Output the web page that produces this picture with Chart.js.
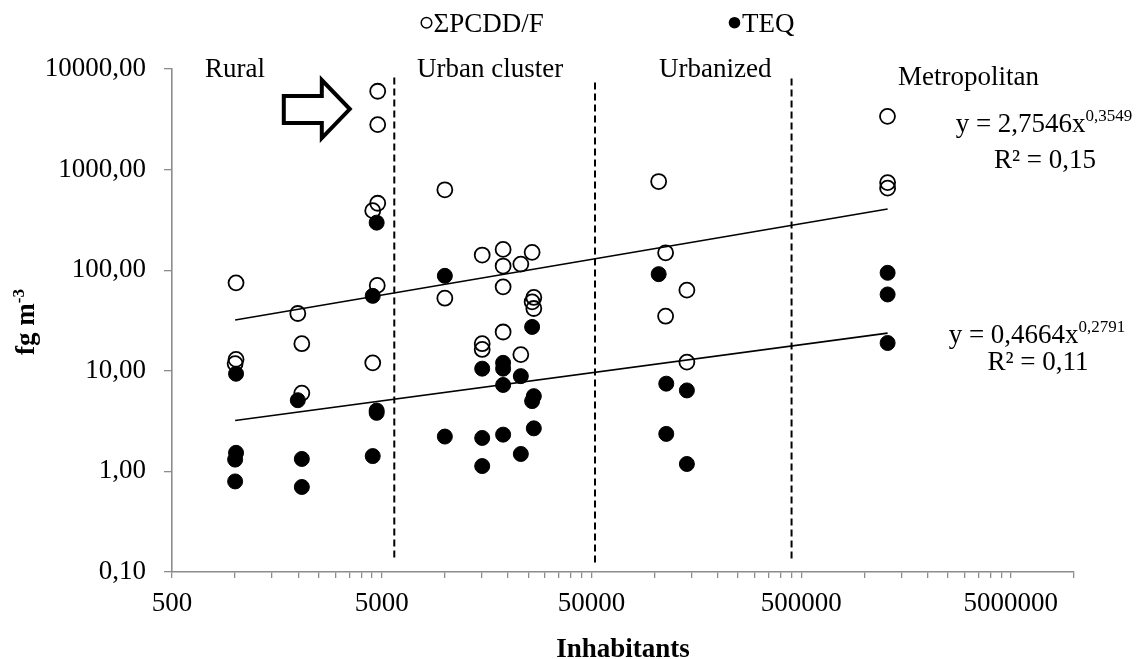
<!DOCTYPE html>
<html>
<head>
<meta charset="utf-8">
<script src="https://cdn.jsdelivr.net/npm/chart.js@4.4.1/dist/chart.umd.min.js"></script>
<style>
  html, body { margin: 0; padding: 0; background: #fff; }
  #wrap { width: 1140px; height: 659px; position: relative; }
</style>
</head>
<body>
<div id="wrap"><canvas id="chart"></canvas></div>
<script>
// ΣPCDD/F (open circles)
const pcddX = [1010, 1010, 1000, 1990, 2080, 2080, 4785, 4785, 4785, 4530, 4760, 4530,
  10000, 10000, 15070, 15070, 15070, 18960, 18960, 18960, 18960, 23030, 23030, 26070, 26560, 26070, 26560,
  104600, 112900, 142600, 112900, 142600,
  1290000, 1292000, 1292000];
const pcddY = [74.9, 13.0, 11.8, 37.1, 18.6, 6.0, 6010, 2800, 463, 391, 70.6, 12.0,
  630, 52.7, 141.5, 18.6, 16.3, 161, 110, 68.3, 24.3, 115, 14.5, 150.4, 53.6, 48.4, 41.6,
  761, 149, 63.3, 34.9, 12.2,
  3383, 743, 654];

// TEQ (filled circles)
const teqX = [4730, 4530, 1010, 1010, 1000, 1000, 1990, 2080, 2080, 4730, 4730, 4530,
  10000, 10000, 15070, 15070, 15070, 18960, 18960, 18960, 18960, 23030, 23030, 26070, 26560, 26070, 26560,
  104600, 113700, 142600, 113700, 142600,
  1292000, 1292000, 1292000];
const teqY = [297, 55.6, 9.35, 1.53, 1.31, 0.795, 5.1, 1.33, 0.70, 4.03, 3.82, 1.42,
  87.9, 2.22, 10.5, 2.15, 1.13, 12.0, 10.5, 7.23, 2.32, 8.85, 1.49, 27.3, 5.6, 5.0, 2.68,
  91.4, 7.45, 6.38, 2.36, 1.185,
  94.2, 57.4, 18.9];

// power trend lines (straight on log-log), end points
const trendX = [1000, 1292000];
const pcddTrendY = [32.0, 406];
const teqTrendY = [3.21, 23.7];

// dashed class boundaries
const boundX = [5740, 52000, 450000];
const boundTop = [8230, 7330, 8040];
const boundBottom = [0.129, 0.115, 0.126];

const areaNames = ['Rural', 'Urban cluster', 'Urbanized', 'Metropolitan'];
const xTickLabels = [500, 5000, 50000, 500000, 5000000];
const yTickValues = [0.1, 1, 10, 100, 1000, 10000];

// Excel style minor ticks: 500, 1000, 1500 ... 4500, 5000, 10000 ...
const xTicks = [];
xTickLabels.forEach(d => {
  for (let k = 1; k <= 9; k++) {
    if (d * k <= 1e7) xTicks.push(d * k);
  }
});

const FONT = '"Liberation Serif", "Times New Roman", serif';
Chart.defaults.font.family = FONT;
Chart.defaults.color = '#000';

const toPts = (xs, ys) => xs.map((x, i) => ({ x: x, y: ys[i] }));

const datasets = [
  {
    label: 'PCDD trend',
    data: toPts(trendX, pcddTrendY),
    showLine: true, pointRadius: 0, borderColor: '#000', borderWidth: 1.6, order: 0
  },
  {
    label: 'TEQ trend',
    data: toPts(trendX, teqTrendY),
    showLine: true, pointRadius: 0, borderColor: '#000', borderWidth: 1.6, order: 0
  },
  {
    label: 'TEQ',
    data: toPts(teqX, teqY),
    pointStyle: 'circle', pointRadius: 7.5, backgroundColor: '#000', borderColor: '#000', borderWidth: 1,
    order: 1
  },
  {
    label: 'ΣPCDD/F',
    data: toPts(pcddX, pcddY),
    pointStyle: 'circle', pointRadius: 7.5, backgroundColor: 'rgba(0,0,0,0)', borderColor: '#000', borderWidth: 1.8,
    order: 2
  }
];
boundX.forEach((bx, i) => {
  datasets.push({
    label: 'bound' + i,
    data: [{ x: bx, y: boundTop[i] }, { x: bx, y: boundBottom[i] }],
    showLine: true, pointRadius: 0, borderColor: '#000', borderWidth: 2, borderDash: [7, 4], order: 3
  });
});

function drawSup(ctx, main, sup, cx, base, size) {
  ctx.font = size + 'px ' + FONT;
  const w1 = ctx.measureText(main).width;
  ctx.font = Math.round(size * 0.63) + 'px ' + FONT;
  const w2 = ctx.measureText(sup).width;
  const x0 = cx - (w1 + w2) / 2;
  ctx.textAlign = 'left';
  ctx.textBaseline = 'alphabetic';
  ctx.font = size + 'px ' + FONT;
  ctx.fillText(main, x0, base);
  ctx.font = Math.round(size * 0.63) + 'px ' + FONT;
  ctx.fillText(sup, x0 + w1, base - 11);
}

const extras = {
  id: 'extras',
  afterDraw(chart) {
    const ctx = chart.ctx;
    const xs = chart.scales.x, ys = chart.scales.y;
    ctx.save();
    ctx.fillStyle = '#000';
    ctx.strokeStyle = '#000';

    // legend
    ctx.lineWidth = 1.5;
    ctx.beginPath();
    ctx.arc(426.5, 22.7, 5.3, 0, Math.PI * 2);
    ctx.stroke();
    ctx.beginPath();
    ctx.arc(734.5, 22.7, 5.8, 0, Math.PI * 2);
    ctx.fill();
    ctx.font = '27px ' + FONT;
    ctx.textAlign = 'left';
    ctx.textBaseline = 'alphabetic';
    ctx.fillText('ΣPCDD/F', 433.5, 32);
    ctx.fillText('TEQ', 742, 32);

    // area names
    ctx.fillText(areaNames[0], 205, 77);
    ctx.fillText(areaNames[1], 417, 77);
    ctx.fillText(areaNames[2], 659, 77);
    ctx.fillText(areaNames[3], 898, 85);

    // equations
    drawSup(ctx, 'y = 2,7546x', '0,3549', 1044, 132, 27);
    drawSup(ctx, 'y = 0,4664x', '0,2791', 1037, 343, 27);
    ctx.font = '27px ' + FONT;
    ctx.textAlign = 'center';
    ctx.fillText('R² = 0,15', 1045, 168);
    ctx.fillText('R² = 0,11', 1038, 370);

    // arrow pointing at the highest rural values
    const tx = xs.getPixelForValue(3600), ty = ys.getPixelForValue(4000);
    ctx.lineWidth = 4;
    ctx.lineJoin = 'miter';
    ctx.fillStyle = '#fff';
    ctx.beginPath();
    ctx.moveTo(tx - 68, ty - 13);
    ctx.lineTo(tx - 30, ty - 13);
    ctx.lineTo(tx - 30, ty - 29);
    ctx.lineTo(tx - 2, ty);
    ctx.lineTo(tx - 30, ty + 29);
    ctx.lineTo(tx - 30, ty + 14);
    ctx.lineTo(tx - 68, ty + 14);
    ctx.closePath();
    ctx.fill();
    ctx.stroke();

    // y axis title with superscript
    ctx.fillStyle = '#000';
    ctx.translate(34, 322);
    ctx.rotate(-Math.PI / 2);
    ctx.font = 'bold 27px ' + FONT;
    const wa = ctx.measureText('fg m').width;
    ctx.font = 'bold 17px ' + FONT;
    const wb = ctx.measureText('-3').width;
    ctx.textAlign = 'left';
    ctx.font = 'bold 27px ' + FONT;
    ctx.fillText('fg m', -(wa + wb) / 2, 0);
    ctx.font = 'bold 17px ' + FONT;
    ctx.fillText('-3', -(wa + wb) / 2 + wa, -10);
    ctx.restore();
  }
};

new Chart(document.getElementById('chart'), {
  type: 'scatter',
  data: { datasets: datasets },
  options: {
    responsive: true,
    maintainAspectRatio: false,
    animation: false,
    events: [],
    layout: { padding: { top: 69, right: 66, left: 0, bottom: 0 } },
    plugins: { legend: { display: false }, tooltip: { enabled: false } },
    scales: {
      x: {
        type: 'logarithmic',
        min: 500,
        max: 1e7,
        afterBuildTicks: s => { s.ticks = xTicks.map(v => ({ value: v })); },
        afterFit: s => { s.height = 87; },
        ticks: {
          autoSkip: false, maxRotation: 0, minRotation: 0, padding: 10,
          font: { size: 27 }, color: '#000',
          callback: v => xTickLabels.includes(v) ? String(v) : ''
        },
        grid: { drawOnChartArea: false, drawTicks: true, tickLength: 6, color: '#8c8c8c', lineWidth: 1.3 },
        border: { color: '#8c8c8c', width: 1.6 },
        title: {
          display: true, text: 'Inhabitants', color: '#000',
          font: { size: 27, weight: 'bold', lineHeight: 1 }, padding: { top: 0, bottom: -5 }
        }
      },
      y: {
        type: 'logarithmic',
        min: 0.1,
        max: 10000,
        afterBuildTicks: s => { s.ticks = yTickValues.map(v => ({ value: v })); },
        afterFit: s => { s.width = 172; },
        ticks: {
          padding: 18, font: { size: 27 }, color: '#000',
          callback: v => v.toFixed(2).replace('.', ',')
        },
        grid: { drawOnChartArea: false, drawTicks: true, tickLength: 8, color: '#8c8c8c', lineWidth: 1.3 },
        border: { color: '#8c8c8c', width: 1.6 }
      }
    }
  },
  plugins: [extras]
});
</script>
</body>
</html>
